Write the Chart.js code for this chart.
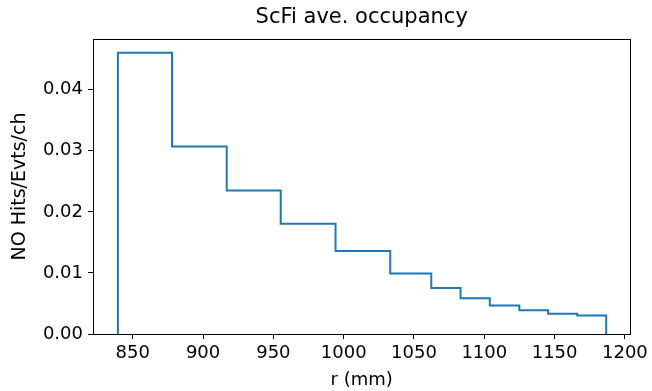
<!DOCTYPE html>
<html>
<head>
<meta charset="utf-8">
<script src="https://cdn.jsdelivr.net/npm/chart.js@4.4.1/dist/chart.umd.min.js"></script>
<style>
  html, body { margin: 0; padding: 0; background: #fff; }
  #wrap { width: 652px; height: 391px; position: relative; }
</style>
</head>
<body>
<div id="wrap"><canvas id="occ"></canvas></div>
<script>
  // bin edges in r (mm) and average occupancy per bin
  const binEdges = [839.4, 877.9, 916.8, 955.2, 994.2, 1033.1, 1062.3, 1083.1, 1103.9, 1124.9, 1145.4, 1166.1, 1186.7];
  const occupancy = [0.04605, 0.03069, 0.02350, 0.01804, 0.01358, 0.00990, 0.00753, 0.00585, 0.00467, 0.00389, 0.00333, 0.00301];
  const xTicks = [850, 900, 950, 1000, 1050, 1100, 1150, 1200];
  const yTicks = [0, 0.01, 0.02, 0.03, 0.04];
  const titleText = 'ScFi ave. occupancy';

  const FONT = 'DejaVu Sans';
  const BLUE = '#1f77b4';

  // histtype='step' outline: up from 0 at the first edge, down to 0 at the last
  function stepPoints() {
    const pts = [{ x: binEdges[0], y: 0 }];
    occupancy.forEach((v, i) => pts.push({ x: binEdges[i], y: v }));
    pts.push({ x: binEdges[binEdges.length - 1], y: 0 });
    return pts;
  }

  // box around the axes + title centred over the plot area (like matplotlib)
  const frame = {
    id: 'frame',
    afterDatasetsDraw(chart) {
      const a = chart.chartArea, ctx = chart.ctx;
      ctx.save();
      ctx.strokeStyle = '#000';
      ctx.lineWidth = 1;
      ctx.strokeRect(Math.round(a.left) + 0.5, Math.round(a.top) + 0.5,
        Math.round(a.right - a.left), Math.round(a.bottom - a.top));
      ctx.fillStyle = '#000';
      ctx.font = '21px "' + FONT + '"';
      ctx.textAlign = 'center';
      ctx.textBaseline = 'middle';
      ctx.fillText(titleText, (a.left + a.right) / 2, 18);
      ctx.restore();
    }
  };

  const axisCommon = {
    grid: { display: true, drawOnChartArea: false, drawTicks: true, tickLength: 5, color: '#000', lineWidth: 1 },
    border: { display: true, color: '#000', width: 1 }
  };

  new Chart(document.getElementById('occ'), {
    type: 'line',
    data: {
      datasets: [{
        data: stepPoints(),
        stepped: true,
        borderColor: BLUE,
        borderWidth: 2,
        pointRadius: 0,
        fill: false
      }]
    },
    options: {
      responsive: true,
      maintainAspectRatio: false,
      animation: false,
      layout: { padding: { left: 0, right: 19, top: 39, bottom: 0 } },
      plugins: {
        legend: { display: false },
        tooltip: { enabled: false },
        title: { display: false }
      },
      scales: {
        x: {
          type: 'linear',
          min: 821.7,
          max: 1203.9,
          ...axisCommon,
          afterBuildTicks: axis => { axis.ticks = xTicks.map(v => ({ value: v })); },
          afterFit: axis => { axis.height = 57; },
          ticks: { color: '#000', padding: 4, maxRotation: 0, font: { family: FONT, size: 18 }, callback: v => String(v) },
          title: { display: true, text: 'r (mm)', color: '#000', padding: { top: 0, bottom: 0 }, font: { family: FONT, size: 18 } }
        },
        y: {
          type: 'linear',
          min: 0,
          max: 0.0483,
          ...axisCommon,
          afterBuildTicks: axis => { axis.ticks = yTicks.map(v => ({ value: v })); },
          afterFit: axis => { axis.width = 93; },
          ticks: { color: '#000', padding: 5, font: { family: FONT, size: 18 }, callback: v => v.toFixed(2) },
          title: { display: true, text: 'NO Hits/Evts/ch', color: '#000', padding: { top: 9, bottom: 0 }, font: { family: FONT, size: 19 } }
        }
      }
    },
    plugins: [frame]
  });
</script>
</body>
</html>
